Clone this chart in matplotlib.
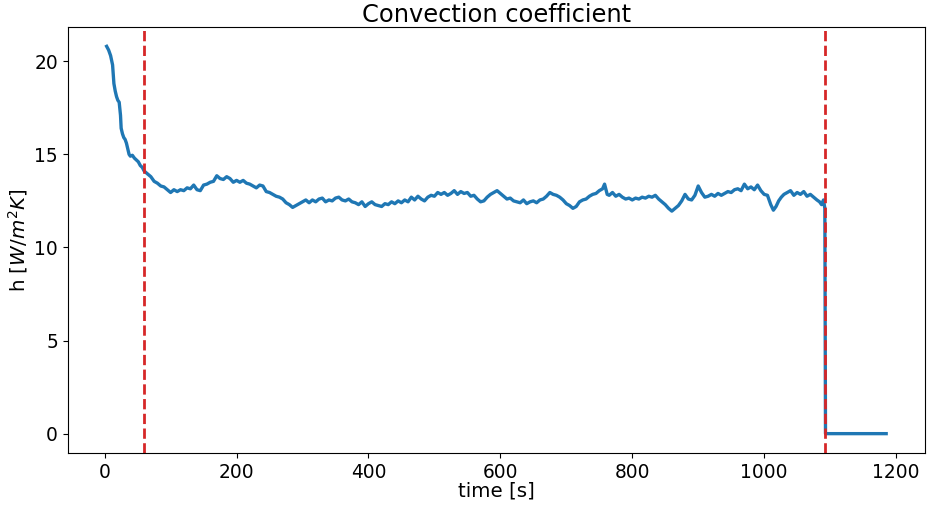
import matplotlib
matplotlib.use("Agg")
import matplotlib.pyplot as plt
import numpy as np

# Convection coefficient trace (time in s, h in W/m^2K)
time_s = [
    3, 6, 9, 12, 14, 16, 18, 20, 22, 24, 25, 27, 29, 31, 33, 35, 37, 39, 42, 45,
    48, 51, 54, 57, 60, 65, 70, 75, 80, 85, 90, 95, 100, 105, 110, 115, 120, 125,
    130, 135, 140, 145, 150, 155, 160, 165, 170, 175, 180, 185, 190, 195, 200, 205,
    210, 215, 220, 225, 230, 235, 240, 245, 250, 255, 260, 265, 270, 275, 280, 285,
    290, 295, 300, 305, 310, 315, 320, 325, 330, 335, 340, 345, 350, 355, 360, 365,
    370, 375, 380, 385, 390, 395, 400, 405, 410, 415, 420, 425, 430, 435, 440, 445,
    450, 455, 460, 465, 470, 475, 480, 485, 490, 495, 500, 505, 510, 515, 520, 525,
    530, 535, 540, 545, 550, 555, 560, 565, 570, 575, 580, 585, 590, 595, 600, 605,
    610, 615, 620, 625, 630, 635, 640, 645, 650, 655, 660, 665, 670, 675, 680, 685,
    690, 695, 700, 705, 710, 715, 720, 725, 730, 735, 740, 745, 750, 755, 758, 762,
    765, 770, 775, 780, 785, 790, 795, 800, 805, 810, 815, 820, 825, 830, 835, 840,
    845, 850, 855, 860, 865, 870, 875, 880, 885, 890, 895, 900, 905, 910, 915, 920,
    925, 930, 935, 940, 945, 950, 955, 960, 965, 970, 975, 980, 985, 990, 995, 1000,
    1005, 1010, 1014, 1018, 1022, 1026, 1030, 1035, 1040, 1045, 1050, 1055, 1060,
    1065, 1070, 1075, 1080, 1084, 1087, 1090, 1092, 1093, 1185,
]
h_coef = [
    20.8, 20.6, 20.3, 19.8, 18.8, 18.4, 18.1, 17.9, 17.8, 17.1, 16.4, 16.1, 15.9,
    15.8, 15.6, 15.3, 15.0, 14.9, 14.95, 14.8, 14.7, 14.6, 14.4, 14.3, 14.1, 13.95,
    13.8, 13.55, 13.45, 13.3, 13.25, 13.1, 12.95, 13.1, 13.0, 13.1, 13.05, 13.2,
    13.15, 13.35, 13.1, 13.05, 13.35, 13.4, 13.5, 13.55, 13.85, 13.7, 13.65, 13.8,
    13.7, 13.5, 13.6, 13.5, 13.6, 13.45, 13.4, 13.3, 13.2, 13.35, 13.3, 13.0, 12.95,
    12.85, 12.75, 12.7, 12.6, 12.4, 12.3, 12.15, 12.25, 12.35, 12.45, 12.55, 12.4,
    12.55, 12.45, 12.6, 12.65, 12.45, 12.55, 12.5, 12.65, 12.7, 12.55, 12.5, 12.6,
    12.45, 12.4, 12.3, 12.45, 12.2, 12.35, 12.45, 12.3, 12.25, 12.2, 12.35, 12.3,
    12.45, 12.35, 12.5, 12.4, 12.55, 12.45, 12.7, 12.55, 12.75, 12.6, 12.5, 12.7,
    12.8, 12.75, 12.95, 12.85, 12.95, 12.8, 12.9, 13.05, 12.85, 13.0, 12.9, 12.95,
    12.75, 12.8, 12.6, 12.45, 12.5, 12.7, 12.85, 12.95, 13.05, 12.9, 12.75, 12.6,
    12.65, 12.5, 12.45, 12.4, 12.55, 12.35, 12.45, 12.5, 12.4, 12.55, 12.6, 12.75,
    12.95, 12.85, 12.8, 12.7, 12.55, 12.35, 12.25, 12.1, 12.2, 12.45, 12.55, 12.6,
    12.75, 12.85, 12.9, 13.05, 13.15, 13.4, 12.85, 12.8, 12.95, 12.75, 12.85, 12.7,
    12.6, 12.65, 12.55, 12.65, 12.6, 12.7, 12.65, 12.75, 12.7, 12.8, 12.6, 12.45,
    12.3, 12.1, 11.95, 12.1, 12.25, 12.5, 12.85, 12.6, 12.55, 12.8, 13.3, 12.95,
    12.7, 12.75, 12.85, 12.75, 12.9, 12.8, 12.9, 13.0, 12.95, 13.1, 13.15, 13.05,
    13.4, 13.15, 13.25, 13.1, 13.35, 13.05, 12.85, 12.8, 12.3, 12.0, 12.2, 12.5,
    12.7, 12.85, 12.95, 13.05, 12.8, 12.95, 12.85, 13.0, 12.75, 12.85, 12.7, 12.55,
    12.45, 12.3, 12.55, 12.1, 0.0, 0.0,
]

# phase boundaries (s)
t_start = 59
t_end = 1093

fig = plt.figure(figsize=(9.27, 5.09), dpi=100)
ax = fig.add_axes([0.073, 0.110, 0.925, 0.837])

ax.plot(time_s, h_coef, color="#1f77b4", linewidth=2.4)
ax.axvline(t_start, color="#d62728", linestyle="--", linewidth=2)
ax.axvline(t_end, color="#d62728", linestyle="--", linewidth=2)

ax.set_xticks([0, 200, 400, 600, 800, 1000, 1200])
ax.set_yticks([0, 5, 10, 15, 20])
ax.tick_params(labelsize=13.4)
ax.set_xlabel("time [s]", fontsize=14.3, labelpad=0)
ax.set_ylabel("h [$W/m^2K$]", fontsize=14.3, labelpad=3)
ax.set_title("Convection coefficient", fontsize=17.4, pad=2)

fig.savefig("out.png", dpi=100)
